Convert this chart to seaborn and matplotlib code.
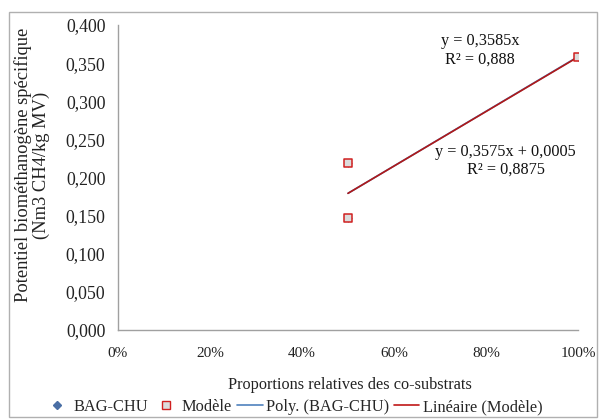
import numpy as np
import pandas as pd
import matplotlib
matplotlib.use("Agg")
import matplotlib.pyplot as plt
from matplotlib.patches import Rectangle
from matplotlib.lines import Line2D
import seaborn as sns

# Co-substrate proportions and specific biomethane potential
proportions = [0.5, 0.5, 1.0]
bag_chu = [0.219, 0.147, 0.358]
modele = [0.219, 0.147, 0.358]

# Trend line coefficients
poly_slope = 0.3585
lin_slope, lin_intercept = 0.3575, 0.0005

x_ticks = [0.0, 0.2, 0.4, 0.6, 0.8, 1.0]
x_tick_labels = ["0%", "20%", "40%", "60%", "80%", "100%"]
y_ticks = [0.0, 0.05, 0.1, 0.15, 0.2, 0.25, 0.3, 0.35, 0.4]
y_tick_labels = ["0,000", "0,050", "0,100", "0,150", "0,200",
                 "0,250", "0,300", "0,350", "0,400"]

sns.set_theme(style="white")
plt.rcParams["font.family"] = ["Liberation Serif", "DejaVu Serif"]

fig = plt.figure(figsize=(6, 4.19), dpi=100)
ax = fig.add_axes([118 / 600, 1 - 330 / 419, (578 - 118) / 600, (330 - 25) / 419])

df = pd.DataFrame({"x": proportions, "bag": bag_chu, "mod": modele})
x_fit = np.array([min(proportions), max(proportions)])
fit = pd.DataFrame({
    "x": x_fit,
    "poly": poly_slope * x_fit,
    "lin": lin_slope * x_fit + lin_intercept,
})

sns.scatterplot(data=df, x="x", y="bag", ax=ax, marker="D", s=14,
                color="#4a6fa5", edgecolor="#4a6fa5", linewidth=0.5, zorder=3)
sns.scatterplot(data=df, x="x", y="mod", ax=ax, marker="s", s=36,
                color="#dcdcdc", edgecolor="#d02020", linewidth=1.1, zorder=4)
sns.lineplot(data=fit, x="x", y="poly", ax=ax, color="#4f81bd", linewidth=1.2, zorder=2)
sns.lineplot(data=fit, x="x", y="lin", ax=ax, color="#b01818", linewidth=1.2, zorder=2)

ax.set_xlim(0, 1)
ax.set_ylim(0, 0.4)
ax.set_xticks(x_ticks)
ax.set_xticklabels(x_tick_labels)
ax.set_yticks(y_ticks)
ax.set_yticklabels(y_tick_labels)
ax.tick_params(axis="x", labelsize=11, length=0, colors="#222222", pad=12)
ax.tick_params(axis="y", labelsize=12.8, length=0, colors="#222222", pad=9)

for side in ["top", "right"]:
    ax.spines[side].set_visible(False)
for side in ["left", "bottom"]:
    ax.spines[side].set_color("#a0a0a0")
    ax.spines[side].set_linewidth(1.0)

ax.set_xlabel("")
ax.set_ylabel("")
fig.text(350 / 600, 1 - 385 / 419, "Proportions relatives des co-substrats",
         ha="center", va="center", fontsize=11.7, color="#222222")
fig.text(32 / 600, 1 - 165 / 419, "Potentiel biométhanogène spécifique\n(Nm3 CH4/kg MV)",
         ha="center", va="center", rotation=90, fontsize=13.3, color="#222222",
         linespacing=1.0)

# Trend line equations
ax.text(0.787, 0.367, "y = 0,3585x\nR² = 0,888", ha="center", va="center",
        fontsize=11.7, color="#111111", linespacing=1.2)
ax.text(0.843, 0.222, "y = 0,3575x + 0,0005\nR² = 0,8875", ha="center", va="center",
        fontsize=11.7, color="#111111", linespacing=1.2)

handles = [
    Line2D([], [], marker="D", linestyle="none", color="#4a6fa5", markersize=4),
    Line2D([], [], marker="s", linestyle="none", markerfacecolor="#dcdcdc",
           markeredgecolor="#d02020", markersize=6),
    Line2D([], [], color="#4f81bd", linewidth=1.2),
    Line2D([], [], color="#c01818", linewidth=1.2),
]
labels = ["BAG-CHU", "Modèle", "Poly. (BAG-CHU)", "Linéaire (Modèle)"]
fig.legend(handles, labels, loc="center", bbox_to_anchor=(293.5 / 600, 1 - 407 / 419),
           ncol=4, frameon=False, fontsize=11.8, handlelength=1.56, handletextpad=0.2,
           columnspacing=0.3, borderpad=0, borderaxespad=0)

fig.patches.append(Rectangle((9 / 600, 2 / 419), 588 / 600, 405 / 419,
                             transform=fig.transFigure, fill=False,
                             edgecolor="#b0b0b0", linewidth=1.0))

fig.savefig("out.png", dpi=100, facecolor="white")
